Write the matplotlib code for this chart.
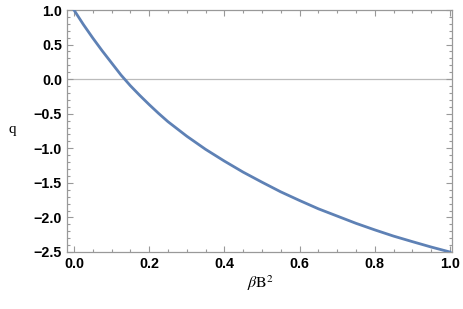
import numpy as np
import matplotlib
matplotlib.use('Agg')
import matplotlib.pyplot as plt
from matplotlib.ticker import MultipleLocator

# values
beta_b2 = [0.0, 0.025, 0.05, 0.075, 0.1, 0.125, 0.15, 0.175, 0.2, 0.225,
           0.25, 0.3, 0.35, 0.4, 0.45, 0.5, 0.55, 0.6, 0.65, 0.7,
           0.75, 0.8, 0.85, 0.9, 0.95, 1.0]
q = [1.0, 0.79, 0.595, 0.41, 0.235, 0.06, -0.095, -0.235, -0.368, -0.495,
     -0.615, -0.825, -1.015, -1.185, -1.345, -1.49, -1.63, -1.755, -1.875, -1.98,
     -2.085, -2.18, -2.27, -2.35, -2.428, -2.5]

xticks = [0.0, 0.2, 0.4, 0.6, 0.8, 1.0]
yticks = [-2.5, -2.0, -1.5, -1.0, -0.5, 0.0, 0.5, 1.0]

plt.rcParams['mathtext.fontset'] = 'stix'

fig = plt.figure(figsize=(4.63, 3.09), dpi=100)
ax = fig.add_axes([0.1447, 0.1845, 0.976 - 0.1447, 0.9676 - 0.1845])

ax.axhline(0, color='#bbbbbb', lw=0.9, zorder=1)
ax.plot(beta_b2, q, color='#5E81B5', lw=2.0, zorder=3)

ax.xaxis.set_minor_locator(MultipleLocator(0.05))
ax.yaxis.set_minor_locator(MultipleLocator(0.1))

tick_font = dict(fontfamily='Liberation Sans', fontweight='bold', fontsize=10.3)
ax.set_xticks(xticks)
ax.set_xticklabels([f'{v:.1f}' for v in xticks], **tick_font)
ax.set_yticks(yticks)
ax.set_yticklabels([f'{v:.1f}'.replace('-', '\u2212') for v in yticks], **tick_font)

ax.set_xlim(-0.0186, 1.0053)
ax.set_ylim(-2.5, 1.0)

for s in ax.spines.values():
    s.set_color('#999999')
    s.set_linewidth(0.9)

ax.tick_params(which='both', direction='in', top=True, right=True,
               color='#999999', width=0.8)
ax.tick_params(which='major', length=4, pad=3.5)
ax.tick_params(which='minor', length=2.2)

fig.text(12 / 463, 1 - 130 / 309, 'q', fontfamily='Liberation Serif',
         fontsize=11, ha='center', va='center')
fig.text(260 / 463, 1 - 283 / 309, r'$\beta\mathrm{B}^2$',
         fontsize=11.5, ha='center', va='center')

fig.savefig('out.png', dpi=100)
